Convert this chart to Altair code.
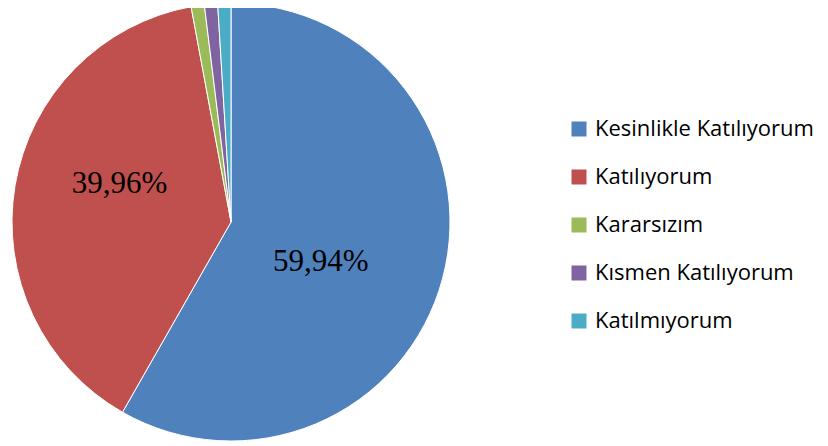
import altair as alt
import pandas as pd

categories = ["Kesinlikle Katılıyorum", "Katılıyorum", "Kararsızım", "Kısmen Katılıyorum", "Katılmıyorum"]
values = [59.94, 39.96, 1.0, 1.0, 1.0]
labels = ["59,94%", "39,96%", "", "", ""]
colors = ["#4F81BD", "#C0504D", "#9BBB59", "#8064A2", "#4BACC6"]

df = pd.DataFrame({
    "cat": categories,
    "val": values,
    "idx": list(range(len(categories))),
    "lab_a": [labels[0]] + [""] * 4,
    "lab_b": ["", labels[1], "", "", ""],
})

CX, CY = 223, 214

base = alt.Chart(df).encode(
    theta=alt.Theta("val:Q", stack=True),
    order=alt.Order("idx:Q"),
    x=alt.value(CX),
    y=alt.value(CY),
)

pie = base.mark_arc(outerRadius=219, stroke="white", strokeWidth=1).encode(
    color=alt.Color(
        "cat:N",
        sort=categories,
        scale=alt.Scale(domain=categories, range=colors),
        legend=alt.Legend(
            title=None,
            orient="none",
            legendX=560,
            legendY=110,
            symbolType="square",
            symbolSize=225,
            symbolStrokeWidth=0,
            labelFontSize=22,
            labelFont="Open Sans",
            labelColor="#000000",
            rowPadding=26,
            labelOffset=5,
            labelLimit=300,
        ),
    )
)

txt_a = base.mark_text(radius=100, dx=-7, dy=14, font="Liberation Serif", fontSize=31, color="black").encode(
    text="lab_a:N"
)
txt_b = base.mark_text(radius=115, dx=2, dy=-19, font="Liberation Serif", fontSize=31, color="black").encode(
    text="lab_b:N"
)

chart = alt.layer(pie, txt_a, txt_b).properties(
    width=812, height=438, padding=0, autosize=alt.AutoSizeParams(type="none")
).configure_view(stroke=None)

chart.save("out.html", embed_options={"renderer": "svg", "actions": False})
